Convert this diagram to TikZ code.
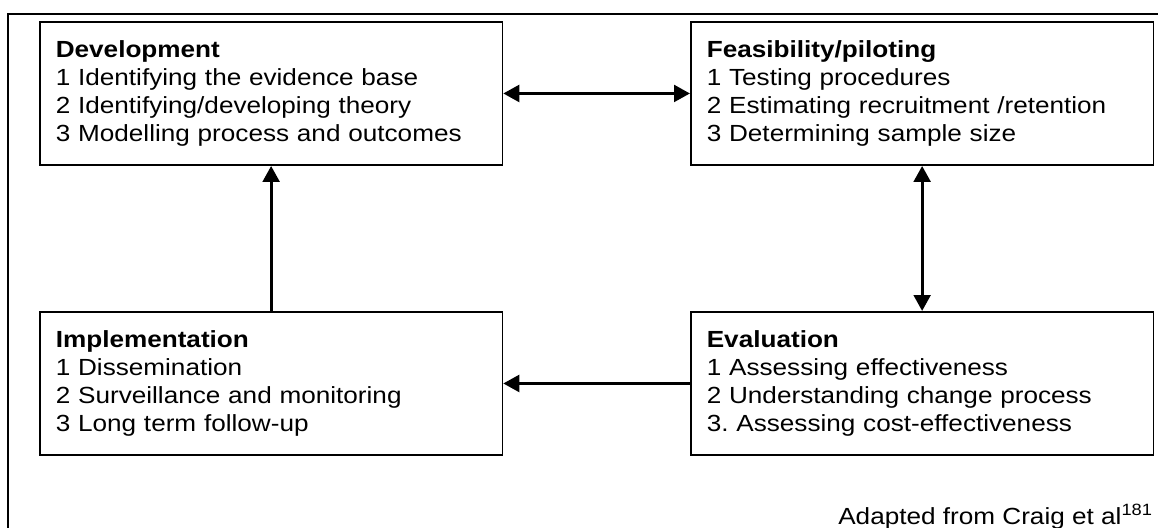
\documentclass[tikz,border=0pt]{standalone}
\usepackage{fontspec}
\setmainfont{Liberation Sans}[FakeStretch=1.12]
\usetikzlibrary{arrows.meta}
\frenchspacing

\tikzset{
  stage/.style={draw,line width=1.2pt,rectangle,anchor=north west,align=left,
    text width=323pt,inner xsep=12pt,minimum height=107.5pt,
    font=\fontsize{17.5}{21.2}\selectfont},
  link/.style={line width=2.4pt,-{Triangle[length=12pt,width=12.5pt]}},
  dlink/.style={line width=2.4pt,{Triangle[length=12pt,width=12.5pt]}-{Triangle[length=12pt,width=12.5pt]}}
}

\begin{document}
\begin{tikzpicture}[x=0.75pt,y=-0.75pt]
\useasboundingbox (0,0) rectangle (1158,528);

% frame
\draw [line width=1.2pt] (8,528) -- (8,14) -- (1158,14);

\node[stage] (dev) at (39,21) {\textbf{Development}\\1 Identifying the evidence base\\2 Identifying/developing theory\\3 Modelling process and outcomes};
\node[stage] (feas) at (690,21) {\textbf{Feasibility/piloting}\\1 Testing procedures\\2 Estimating recruitment /retention\\3 Determining sample size};
\node[stage] (impl) at (39,311) {\textbf{Implementation}\\1 Dissemination\\2 Surveillance and monitoring\\3 Long term follow-up};
\node[stage] (eval) at (690,311) {\textbf{Evaluation}\\1 Assessing effectiveness\\2 Understanding change process\\3. Assessing cost-effectiveness};

\draw [dlink] (dev) -- (feas);
\draw [dlink] (feas) -- (eval);
\draw [link] (eval) -- (impl);
\draw [link] (impl) -- (dev);

\node[anchor=base east,inner sep=0pt,font=\fontsize{17.5}{20}\selectfont] (src) at (1153,524) {Adapted from Craig et al\textsuperscript{181}};
\end{tikzpicture}
\end{document}
